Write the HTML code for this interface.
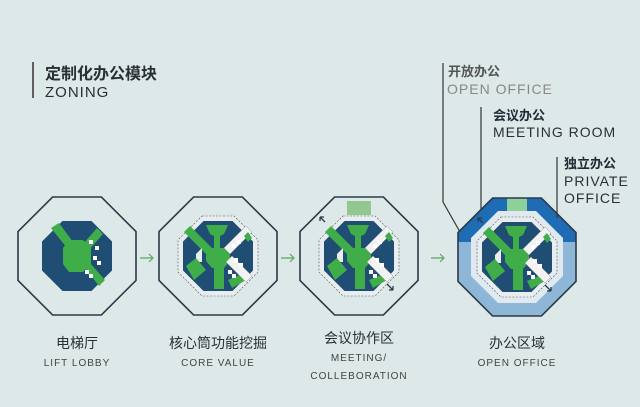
<!DOCTYPE html>
<html><head><meta charset="utf-8"><style>
body{margin:0;background:#dde8e8;}
svg{display:block}
.cn{font-family:"Liberation Sans","Noto Sans CJK SC",sans-serif;}
.en{font-family:"Liberation Sans",sans-serif;letter-spacing:1px;}
</style></head><body>
<svg width="640" height="407" viewBox="0 0 640 407">
<rect width="640" height="407" fill="#dde8e8"/>
<defs>
<polygon id="oct" points="-24.4,-59 24.4,-59 59,-24.4 59,24.4 24.4,59 -24.4,59 -59,24.4 -59,-24.4"/>
<polygon id="in" points="-14.5,-35 14.5,-35 35,-14.5 35,14.5 14.5,35 -14.5,35 -35,14.5 -35,-14.5"/>
<g id="p1">
 <use href="#in" fill="#204d73"/>
 <polygon points="-26,-28 -18,-33 -4,-14 -10,-8" fill="#3fae49"/>
 <polygon points="26,-22 20,-28 6,-12 12,-6" fill="#3fae49"/>
 <polygon points="-8,-16 6,-16 14,-8 14,8 6,16 -8,16 -14,8 -14,-8" fill="#3fae49"/>
 <polygon points="8,12 14,8 28,24 22,30" fill="#3fae49"/>
 <g fill="#fff"><rect x="12" y="-16" width="4" height="4"/><rect x="18" y="-10" width="4" height="4"/><rect x="16" y="0" width="4" height="4"/><rect x="20" y="5" width="4" height="4"/><rect x="8" y="14" width="4" height="4"/><rect x="12" y="18" width="4" height="4"/></g>
</g>
<g id="p2">
 <polygon points="-16,-40 16,-40 40,-16 40,16 16,40 -16,40 -40,16 -40,-16" fill="#e8eef0" stroke="#555" stroke-width="0.6" stroke-dasharray="2,1.5"/>
 <use href="#in" fill="#204d73"/>
 <polygon points="-12,-31 10,-31 6,-22 2,-20 2,-8 -4,-8 -4,-20 -8,-22" fill="#3fae49"/>
 <polygon points="-34,-24 -28,-30 -4,-6 -10,0" fill="#3fae49"/>
 <polygon points="-22,-2 -16,-8 -16,6 -22,6" fill="#e8eef0"/>
 <polygon points="-7,-8 7,-8 12,-3 12,5 6,12 -6,12 -12,5 -12,-3" fill="#3fae49"/>
 <polygon points="-32,10 -22,2 -12,14 -24,24" fill="#3fae49"/>
 <polygon points="-4,12 6,12 6,33 -4,33" fill="#3fae49"/>
 <polygon points="10,24 24,18 28,24 14,32" fill="#3fae49"/>
 <polygon points="6,-8 28,-30 34,-24 12,-2" fill="#f2f2f2" stroke="#999" stroke-width="0.5"/>
 <polygon points="8,6 14,0 34,20 28,26" fill="#f2f2f2" stroke="#999" stroke-width="0.5"/>
 <polygon points="26,-20 30,-24 34,-18 30,-14" fill="#3fae49"/>
 <g fill="#fff"><rect x="14" y="-12" width="4" height="4"/><rect x="19" y="-16" width="4" height="4"/><rect x="16" y="2" width="4" height="4"/><rect x="21" y="7" width="4" height="4"/><rect x="10" y="14" width="4" height="4"/><rect x="14" y="18" width="4" height="4"/></g>
</g>
</defs>

<line x1="33" y1="62" x2="33" y2="98" stroke="#333" stroke-width="1.5"/>
<text x="45" y="79" class="cn" font-size="16" font-weight="bold" fill="#2a2f35">定制化办公模块</text>
<text x="45" y="97" class="en" font-size="15" fill="#2a2f35">ZONING</text>

<g transform="translate(77,256)"><use href="#oct" fill="none" stroke="#2b3a48" stroke-width="1.6"/><use href="#p1"/></g>
<g transform="translate(218,256)"><use href="#oct" fill="none" stroke="#2b3a48" stroke-width="1.6"/><use href="#p2"/></g>
<g transform="translate(359,256)"><use href="#oct" fill="none" stroke="#2b3a48" stroke-width="1.6"/>
 <rect x="-12" y="-55" width="24" height="14" fill="#92c88f"/>
 <use href="#p2"/>
 <path d="M-34,-34 l-5,-5 M-39,-39 l4,0 M-39,-39 l0,4 M28,28 l6,6 M34,34 l-4,0 M34,34 l0,-4" stroke="#2b3a48" stroke-width="1.3"/>
</g>
<g transform="translate(517,257)">
 <clipPath id="cp"><use href="#oct"/></clipPath>
 <g clip-path="url(#cp)">
  <rect x="-60" y="-60" width="120" height="120" fill="#8db6d7"/>
  <rect x="-60" y="-60" width="120" height="45" fill="#1e6cb4"/>
  <rect x="-10" y="-60" width="20" height="22" fill="#8fcf9a"/>
 </g>
 <use href="#oct" fill="none" stroke="#2b3a48" stroke-width="1.6"/>
 <polygon points="-19,-46 19,-46 46,-19 46,19 19,46 -19,46 -46,19 -46,-19" fill="#dfe9ef"/>
 <use href="#p2"/>
 <path d="M-34,-34 l-5,-5 M-39,-39 l4,0 M-39,-39 l0,4 M28,28 l6,6 M34,34 l-4,0 M34,34 l0,-4" stroke="#2b3a48" stroke-width="1.3"/>
</g>

<g stroke="#5aa85a" stroke-width="1.2" fill="none">
 <path d="M140,258 h13 M149,254 l4,4 l-4,4"/>
 <path d="M281,258 h13 M290,254 l4,4 l-4,4"/>
 <path d="M431,258 h13 M440,254 l4,4 l-4,4"/>
</g>

<g stroke="#333" stroke-width="1.2" fill="none">
 <path d="M443,63 V202 L460,232"/>
 <path d="M481,107 V210"/>
 <path d="M557,157 V218"/>
</g>
<text x="448" y="76" class="cn" font-size="13" font-weight="bold" fill="#555">开放办公</text>
<text x="447" y="94" class="en" font-size="14" fill="#888">OPEN OFFICE</text>
<text x="493" y="120" class="cn" font-size="13" font-weight="bold" fill="#1f2a33">会议办公</text>
<text x="493" y="137" class="en" font-size="14" fill="#2a2f35">MEETING ROOM</text>
<text x="564" y="168" class="cn" font-size="13" font-weight="bold" fill="#1f2a33">独立办公</text>
<text x="564" y="186" class="en" font-size="14" fill="#2a2f35">PRIVATE</text>
<text x="564" y="203" class="en" font-size="14" fill="#2a2f35">OFFICE</text>

<g text-anchor="middle">
<text x="77" y="348" class="cn" font-size="14" fill="#2a2f35">电梯厅</text>
<text x="77" y="366" class="en" font-size="10" fill="#444">LIFT LOBBY</text>
<text x="218" y="348" class="cn" font-size="14" fill="#2a2f35">核心筒功能挖掘</text>
<text x="218" y="366" class="en" font-size="10" fill="#444">CORE VALUE</text>
<text x="359" y="343" class="cn" font-size="14" fill="#2a2f35">会议协作区</text>
<text x="359" y="361" class="en" font-size="10" fill="#444">MEETING/</text>
<text x="359" y="379" class="en" font-size="10" fill="#444">COLLEBORATION</text>
<text x="517" y="348" class="cn" font-size="14" fill="#2a2f35">办公区域</text>
<text x="517" y="366" class="en" font-size="10" fill="#444">OPEN OFFICE</text>
</g>
</svg>
</body></html>
